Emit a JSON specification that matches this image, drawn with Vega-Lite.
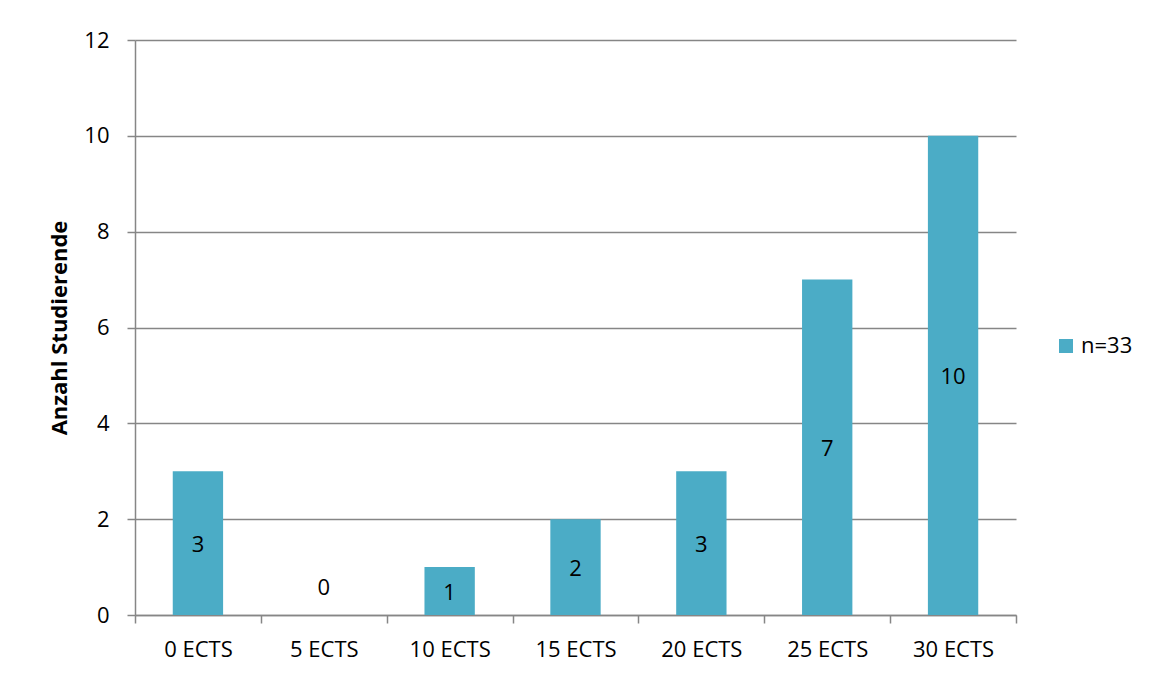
{
  "$schema": "https://vega.github.io/schema/vega-lite/v6.json",
  "width": 881,
  "height": 575,
  "autosize": {"type": "none"},
  "padding": {"left": 135, "top": 40, "right": 137, "bottom": 59},
  "background": "white",
  "config": {
    "font": "Open Sans",
    "view": {"stroke": null},
    "axis": {"labelFont": "Open Sans", "titleFont": "Open Sans"}
  },
  "data": {
    "values": [
      {"kategorie": "0 ECTS", "anzahl": 3, "serie": "n=33"},
      {"kategorie": "5 ECTS", "anzahl": 0, "serie": "n=33"},
      {"kategorie": "10 ECTS", "anzahl": 1, "serie": "n=33"},
      {"kategorie": "15 ECTS", "anzahl": 2, "serie": "n=33"},
      {"kategorie": "20 ECTS", "anzahl": 3, "serie": "n=33"},
      {"kategorie": "25 ECTS", "anzahl": 7, "serie": "n=33"},
      {"kategorie": "30 ECTS", "anzahl": 10, "serie": "n=33"}
    ]
  },
  "encoding": {
    "x": {
      "field": "kategorie",
      "type": "nominal",
      "sort": null,
      "scale": {"paddingInner": 0, "paddingOuter": 0},
      "axis": {
        "title": null,
        "labelAngle": 0,
        "labelFontSize": 22,
        "labelColor": "black",
        "labelPadding": 16,
        "tickBand": "extent",
        "tickSize": 8,
        "tickColor": "#868686",
        "domainColor": "#868686",
        "tickWidth": 1.5,
        "domainWidth": 1.5
      }
    }
  },
  "layer": [
    {
      "mark": {"type": "bar", "color": "#4BACC6", "width": {"band": 0.4}},
      "encoding": {
        "y": {
          "field": "anzahl",
          "type": "quantitative",
          "scale": {"domain": [0, 12]},
          "axis": {
            "title": "Anzahl Studierende",
            "titleFontSize": 22,
            "titleFontWeight": "bold",
            "titleColor": "black",
            "titlePadding": 12,
            "values": [0, 2, 4, 6, 8, 10, 12],
            "labelFontSize": 22,
            "labelColor": "black",
            "labelPadding": 18,
            "tickSize": 8,
            "tickColor": "#868686",
            "tickWidth": 1.5,
            "domainColor": "#868686",
            "domainWidth": 1.5,
            "gridColor": "#868686",
            "gridWidth": 1.5
          }
        },
        "color": {
          "field": "serie",
          "type": "nominal",
          "scale": {"range": ["#4BACC6"]},
          "legend": {
            "title": null,
            "orient": "none",
            "legendX": 920,
            "legendY": 295,
            "symbolType": "square",
            "symbolSize": 196,
            "labelFontSize": 22,
            "labelColor": "black",
            "labelFont": "Open Sans",
            "labelOffset": 4
          }
        }
      }
    },
    {
      "transform": [
        {"filter": "datum.anzahl > 0"},
        {"calculate": "datum.anzahl / 2", "as": "mitte"}
      ],
      "mark": {"type": "text", "fontSize": 22, "color": "black", "baseline": "middle", "dy": 2},
      "encoding": {
        "y": {"field": "mitte", "type": "quantitative"},
        "text": {"field": "anzahl", "type": "quantitative"}
      }
    },
    {
      "transform": [{"filter": "datum.anzahl == 0"}],
      "mark": {"type": "text", "fontSize": 22, "color": "black", "baseline": "middle", "dy": -27},
      "encoding": {
        "y": {"field": "anzahl", "type": "quantitative"},
        "text": {"field": "anzahl", "type": "quantitative"}
      }
    }
  ]
}
